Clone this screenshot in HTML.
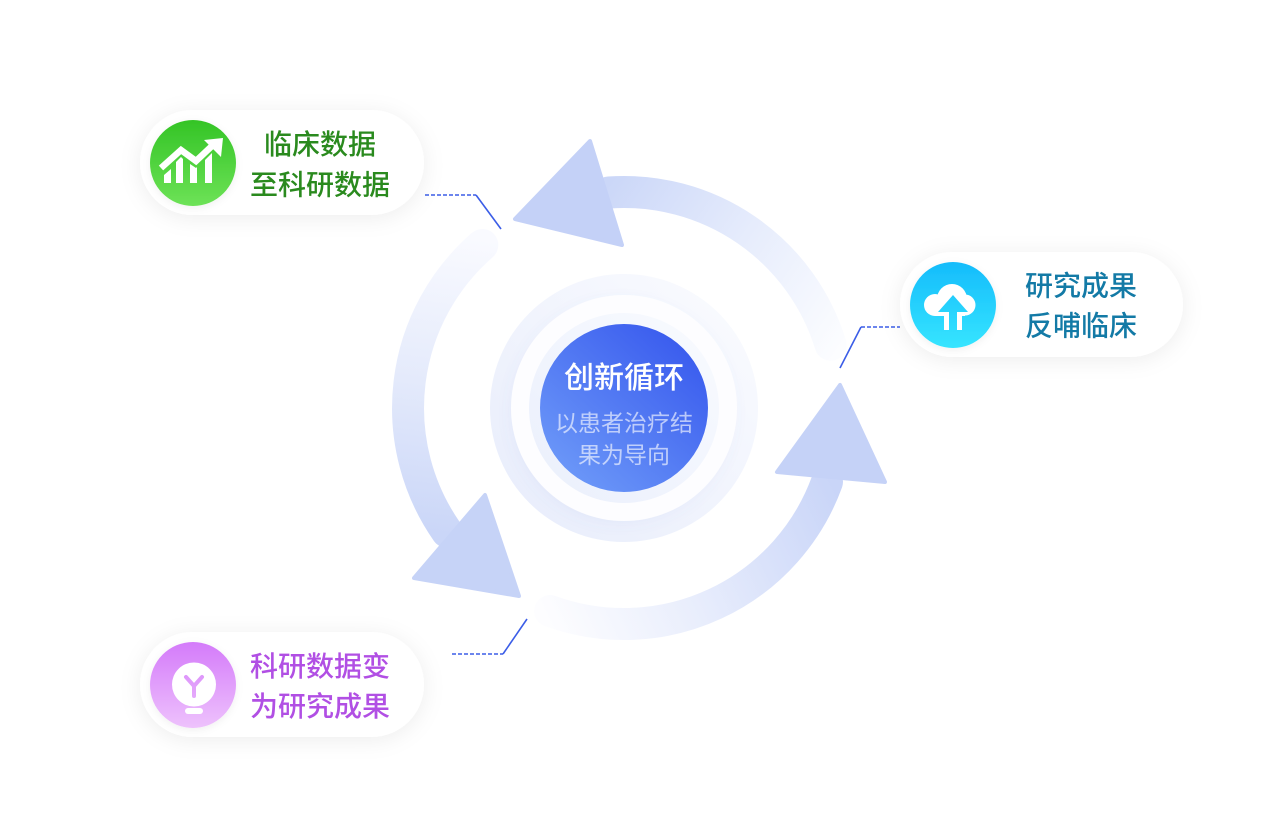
<!DOCTYPE html>
<html><head><meta charset="utf-8"><style>
html,body{margin:0;padding:0;background:#fff;}
body{width:1272px;height:840px;overflow:hidden;}
svg{display:block;}
text{font-family:"Liberation Sans","Noto Sans CJK SC",sans-serif;}
</style></head><body>
<svg width="1272" height="840" viewBox="0 0 1272 840" xmlns="http://www.w3.org/2000/svg">
<defs>
  <filter id="sh" x="-20%" y="-40%" width="140%" height="180%">
    <feDropShadow dx="0" dy="3" stdDeviation="11" flood-color="#000" flood-opacity="0.07"/>
  </filter>
  <filter id="sh2" x="-30%" y="-30%" width="160%" height="160%">
    <feDropShadow dx="0" dy="2" stdDeviation="4" flood-color="#000" flood-opacity="0.06"/>
  </filter>
  <filter id="ringsh" x="-30%" y="-30%" width="160%" height="160%">
    <feDropShadow dx="-2" dy="4" stdDeviation="6" flood-color="#6b80d8" flood-opacity="0.06"/>
  </filter>
  <linearGradient id="gTop" gradientUnits="userSpaceOnUse" x1="840" y1="350" x2="605" y2="190">
    <stop offset="0" stop-color="#fcfdff"/><stop offset="0.5" stop-color="#e6ecfc"/><stop offset="1" stop-color="#cbd7f8"/>
  </linearGradient>
  <linearGradient id="gLeft" gradientUnits="userSpaceOnUse" x1="485" y1="240" x2="445" y2="535">
    <stop offset="0" stop-color="#f9faff"/><stop offset="0.5" stop-color="#e4eafb"/><stop offset="1" stop-color="#cad6f8"/>
  </linearGradient>
  <linearGradient id="gRight" gradientUnits="userSpaceOnUse" x1="545" y1="615" x2="830" y2="480">
    <stop offset="0" stop-color="#fdfdff"/><stop offset="0.45" stop-color="#e8edfc"/><stop offset="1" stop-color="#c9d5f8"/>
  </linearGradient>
  <linearGradient id="ring1" x1="0" y1="1" x2="1" y2="0">
    <stop offset="0" stop-color="#e7ecfb"/><stop offset="1" stop-color="#fbfcff"/>
  </linearGradient>
  <linearGradient id="ring3" x1="0" y1="1" x2="1" y2="0">
    <stop offset="0" stop-color="#eaeffc"/><stop offset="1" stop-color="#f9fbff"/>
  </linearGradient>
  <linearGradient id="blue" x1="0.15" y1="0.9" x2="0.85" y2="0.1">
    <stop offset="0" stop-color="#6b97f8"/><stop offset="1" stop-color="#3a5cee"/>
  </linearGradient>
  <linearGradient id="gG" gradientUnits="userSpaceOnUse" x1="0" y1="120" x2="0" y2="206">
    <stop offset="0" stop-color="#34c426"/><stop offset="1" stop-color="#6de257"/>
  </linearGradient>
  <linearGradient id="gC" gradientUnits="userSpaceOnUse" x1="0" y1="262" x2="0" y2="348">
    <stop offset="0" stop-color="#15bcfb"/><stop offset="1" stop-color="#36e5ff"/>
  </linearGradient>
  <linearGradient id="gP" gradientUnits="userSpaceOnUse" x1="0" y1="642" x2="0" y2="728">
    <stop offset="0" stop-color="#d47bfa"/><stop offset="1" stop-color="#eec2fc"/>
  </linearGradient>
</defs>

<!-- arrow shafts -->
<path d="M 830.6 344.8 A 216 216 0 0 0 608.9 192.5" fill="none" stroke="url(#gTop)" stroke-width="32" stroke-linecap="round"/>
<path d="M 482.3 245 A 216 216 0 0 0 447.1 531.9" fill="none" stroke="url(#gLeft)" stroke-width="32" stroke-linecap="round"/>
<path d="M 550.1 611 A 216 216 0 0 0 827 481.9" fill="none" stroke="url(#gRight)" stroke-width="32" stroke-linecap="round"/>

<!-- arrow heads -->
<polygon points="590,141 515,219 622,245" fill="#c4d1f7" stroke="#c4d1f7" stroke-width="4" stroke-linejoin="round"/>
<polygon points="414,578 485,495 519,596" fill="#c6d3f7" stroke="#c6d3f7" stroke-width="4" stroke-linejoin="round"/>
<polygon points="777,472 885,482 840,385" fill="#c5d2f7" stroke="#c5d2f7" stroke-width="4" stroke-linejoin="round"/>

<!-- center rings -->
<circle cx="624" cy="408" r="134" fill="url(#ring1)"/>
<circle cx="624" cy="408" r="113" fill="#fdfdff" filter="url(#ringsh)"/>
<circle cx="624" cy="408" r="95" fill="url(#ring3)"/>
<circle cx="624" cy="408" r="84" fill="url(#blue)"/>
<text x="624" y="388" font-size="30" font-weight="500" fill="#ffffff" text-anchor="middle">创新循环</text>
<text x="624" y="431" font-size="23" fill="rgba(255,255,255,0.62)" text-anchor="middle">以患者治疗结</text>
<text x="624" y="463" font-size="23" fill="rgba(255,255,255,0.62)" text-anchor="middle">果为导向</text>

<!-- connectors -->
<g stroke="#3b5de7" stroke-width="1.6" fill="none">
  <line x1="425" y1="195" x2="476" y2="195" stroke-dasharray="4 2"/>
  <line x1="476" y1="195" x2="501" y2="229"/>
  <line x1="840" y1="368" x2="861" y2="327"/>
  <line x1="861" y1="327" x2="900" y2="327" stroke-dasharray="4 2"/>
  <line x1="452" y1="654" x2="503" y2="654" stroke-dasharray="4 2"/>
  <line x1="503" y1="654" x2="527" y2="619"/>
</g>

<!-- cards -->
<rect x="140" y="110" width="284" height="105" rx="52.5" fill="#fff" filter="url(#sh)"/>
<rect x="900" y="252" width="283" height="105" rx="52.5" fill="#fff" filter="url(#sh)"/>
<rect x="140" y="632" width="284" height="105" rx="52.5" fill="#fff" filter="url(#sh)"/>

<!-- green icon -->
<circle cx="193" cy="163" r="43" fill="url(#gG)" filter="url(#sh2)"/>
<polyline points="161,168 181,150 196,161 213,145" fill="none" stroke="#fff" stroke-width="6.5" stroke-linejoin="miter"/>
<polygon points="223,138 204,140 221,157" fill="#fff"/>
<polygon points="164,175 171,169 171,183 164,183" fill="#fff"/>
<polygon points="176,162 181,157 183,159 183,183 176,183" fill="#fff"/>
<polygon points="190,164 196,168 197,167 197,183 190,183" fill="#fff"/>
<polygon points="205,160 212,153 212,183 205,183" fill="#fff"/>
<text x="320" y="154" font-size="28" font-weight="500" fill="#2a8a1e" text-anchor="middle">临床数据</text>
<text x="320" y="194.5" font-size="28" font-weight="500" fill="#2a8a1e" text-anchor="middle">至科研数据</text>

<!-- cyan icon -->
<circle cx="953" cy="305" r="43" fill="url(#gC)" filter="url(#sh2)"/>
<g fill="#fff">
  <circle cx="952" cy="299" r="15"/>
  <circle cx="935" cy="305" r="11"/>
  <circle cx="965" cy="305" r="10.5"/>
  <rect x="935" y="300" width="30" height="16"/>
  <rect x="944" y="308" width="18" height="22"/>
</g>
<polygon points="953,295 938,312 968,312" fill="url(#gC)"/>
<rect x="949" y="310" width="8" height="21" fill="url(#gC)"/>
<text x="1081" y="295.5" font-size="28" font-weight="500" fill="#137aa6" text-anchor="middle">研究成果</text>
<text x="1081" y="335.5" font-size="28" font-weight="500" fill="#137aa6" text-anchor="middle">反哺临床</text>

<!-- purple icon -->
<circle cx="193" cy="685" r="43" fill="url(#gP)" filter="url(#sh2)"/>
<g fill="#fff">
  <circle cx="194" cy="684.5" r="22"/>
  <path d="M 174 692 L 214 692 L 204 703 Q 203 705 201 705 L 187 705 Q 185 705 184 703 Z"/>
  <rect x="185" y="708" width="18" height="6" rx="3"/>
</g>
<g stroke="url(#gP)" stroke-width="4" stroke-linecap="round" fill="none">
  <line x1="186" y1="677" x2="194" y2="686"/>
  <line x1="202" y1="677" x2="194" y2="686"/>
  <line x1="194" y1="686" x2="194" y2="696"/>
</g>
<text x="320" y="676" font-size="28" font-weight="500" fill="#b14fe4" text-anchor="middle">科研数据变</text>
<text x="320" y="716" font-size="28" font-weight="500" fill="#b14fe4" text-anchor="middle">为研究成果</text>
</svg>
</body></html>
